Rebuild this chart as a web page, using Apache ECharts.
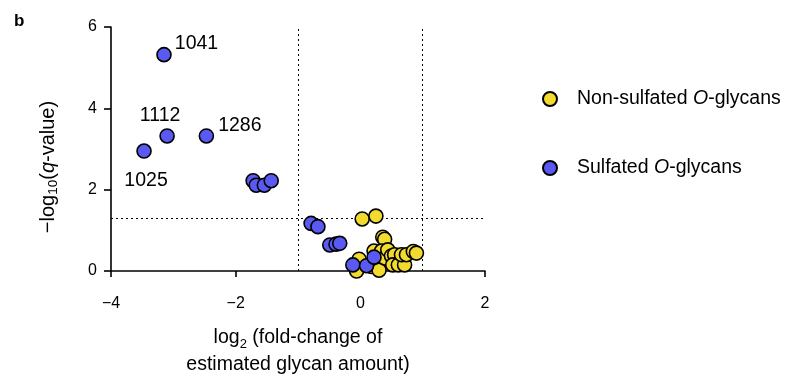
<!DOCTYPE html>
<html><head><meta charset="utf-8">
<script src="https://cdn.jsdelivr.net/npm/echarts@6/dist/echarts.min.js"></script>
<style>html,body{margin:0;padding:0;background:#fff}#c{width:791px;height:383px}</style>
</head><body><div id="c"></div>
<script>
// Non-sulfated O-glycans: [log2 fold change, -log10 q]
const nonSulfX = [0.03,0.25,0.36,0.39,-0.02,-0.06,0.18,0.28,0.30,0.22,0.34,0.39,0.44,0.50,0.55,0.52,0.61,0.71,0.66,0.74,0.85,0.90];
const nonSulfY = [1.28,1.35,0.83,0.78,0.29,0.00,0.11,0.11,0.02,0.49,0.49,0.32,0.52,0.37,0.40,0.15,0.15,0.15,0.40,0.40,0.48,0.44];
// Sulfated O-glycans
const sulfX = [-3.15,-3.10,-2.47,-3.47,-1.72,-1.67,-1.54,-1.43,-0.79,-0.68,-0.49,-0.39,-0.33,-0.12,0.10,0.22];
const sulfY = [5.32,3.32,3.32,2.95,2.22,2.11,2.11,2.22,1.17,1.09,0.64,0.66,0.68,0.15,0.13,0.34];
const sulfLabels = ['1041','1112','1286','1025','','','','','','','','','','','',''];
const xTicks = [-4,-2,0,2];
const yTicks = [0,2,4,6];
const qThreshold = 1.301;
const fcThresholds = [-1,1];

const FONT = 'Liberation Sans, Arial, sans-serif';
const FS = 19.5;
const labelPos = {
  '1041': {position:'right', distance:3, offset:[0,-11]},
  '1112': {position:'top', distance:5, offset:[-7,2]},
  '1286': {position:'right', distance:4, offset:[0,-10]},
  '1025': {position:'bottom', distance:5, offset:[2,7]}
};
const sulfData = sulfX.map((x,i)=>{
  const d = {value:[x,sulfY[i]]};
  const l = sulfLabels[i];
  if(l){ d.label = Object.assign({show:true, formatter:l, fontSize:FS, color:'#000', fontFamily:FONT}, labelPos[l]); }
  return d;
});
const nonData = nonSulfX.map((x,i)=>[x,nonSulfY[i]]);

const chart = echarts.init(document.getElementById('c'), null, {renderer:'canvas'});
const sub = {fontSize:13, fontFamily:FONT, color:'#000', verticalAlign:'bottom', padding:[11,0,0,0]};
chart.setOption({
  animation:false,
  backgroundColor:'#fff',
  textStyle:{fontFamily:FONT},
  title:{text:'b', left:9, top:8, textStyle:{fontSize:17, fontWeight:'bold', color:'#000', fontFamily:FONT}},
  grid:{left:111, top:27, width:374, height:246, containLabel:false},
  graphic:[{
    type:'text', x:48, y:167, rotation:Math.PI/2,
    style:{
      text:'{t|\u2212log}{s|10}{t|(}{i|q}{t|-value)}',
      align:'center', verticalAlign:'middle',
      rich:{t:{fontSize:20, fill:'#000', fontFamily:FONT},
            i:{fontSize:20, fontStyle:'italic', fill:'#000', fontFamily:FONT},
            s:{fontSize:13.5, fill:'#000', fontFamily:FONT, verticalAlign:'bottom', padding:[11,0,0,0]}}
    }
  }],
  legend:{
    orient:'vertical', left:542, top:89, padding:0, itemGap:49, itemWidth:14, itemHeight:14,
    icon:'circle',
    data:['Non-sulfated O-glycans','Sulfated O-glycans'],
    formatter:function(n){
      return n==='Non-sulfated O-glycans' ? '{p|}{n|Non-sulfated }{i|O}{n|-glycans}' : '{p|}{n|Sulfated }{i|O}{n|-glycans}';
    },
    textStyle:{fontSize:FS, color:'#000', fontFamily:FONT,
      rich:{p:{width:15}, n:{fontSize:FS, color:'#000', fontFamily:FONT}, i:{fontSize:FS, fontStyle:'italic', color:'#000', fontFamily:FONT}}}
  },
  xAxis:{
    type:'value', min:xTicks[0], max:xTicks[xTicks.length-1], interval:2,
    splitLine:{show:false},
    axisLine:{onZero:false, lineStyle:{color:'#000', width:1.6}},
    axisTick:{show:true, length:6, lineStyle:{color:'#000', width:1.6}},
    axisLabel:{fontSize:16, color:'#000', margin:25, fontFamily:FONT,
      formatter:v=> v<0 ? '\u2212'+Math.abs(v) : String(v)},
    nameLocation:'middle', nameGap:53,
    name:'{t|log}{s|2}{t| (fold-change of}\n{t|estimated glycan amount)}',
    nameTextStyle:{fontSize:FS, color:'#000', fontFamily:FONT, lineHeight:27,
      rich:{t:{fontSize:FS, color:'#000', fontFamily:FONT, lineHeight:27}, s:sub}}
  },
  yAxis:{
    type:'value', min:yTicks[0], max:yTicks[yTicks.length-1], interval:2,
    splitLine:{show:false},
    axisLine:{onZero:false, lineStyle:{color:'#000', width:1.6}},
    axisTick:{show:true, length:7, lineStyle:{color:'#000', width:1.6}},
    axisLabel:{fontSize:16, color:'#000', margin:14, fontFamily:FONT}
  },
  series:[
    {
      name:'thresholds', type:'scatter', data:[], z:1, silent:true,
      markLine:{
        z:1, silent:true, symbol:'none', label:{show:false}, animation:false,
        lineStyle:{color:'#000', type:[2,3], width:1},
        data:[{yAxis:qThreshold}].concat(fcThresholds.map(v=>({xAxis:v})))
      }
    },
    {
      name:'Non-sulfated O-glycans', type:'scatter', symbol:'circle', symbolSize:14,
      itemStyle:{color:'#F3DA2E', borderColor:'#000', borderWidth:1.6, opacity:1},
      data:nonData, z:3
    },
    {
      name:'Sulfated O-glycans', type:'scatter', symbol:'circle', symbolSize:14,
      itemStyle:{color:'#5A5AF2', borderColor:'#000', borderWidth:1.6, opacity:1},
      data:sulfData, z:4
    }
  ]
});
</script></body></html>
